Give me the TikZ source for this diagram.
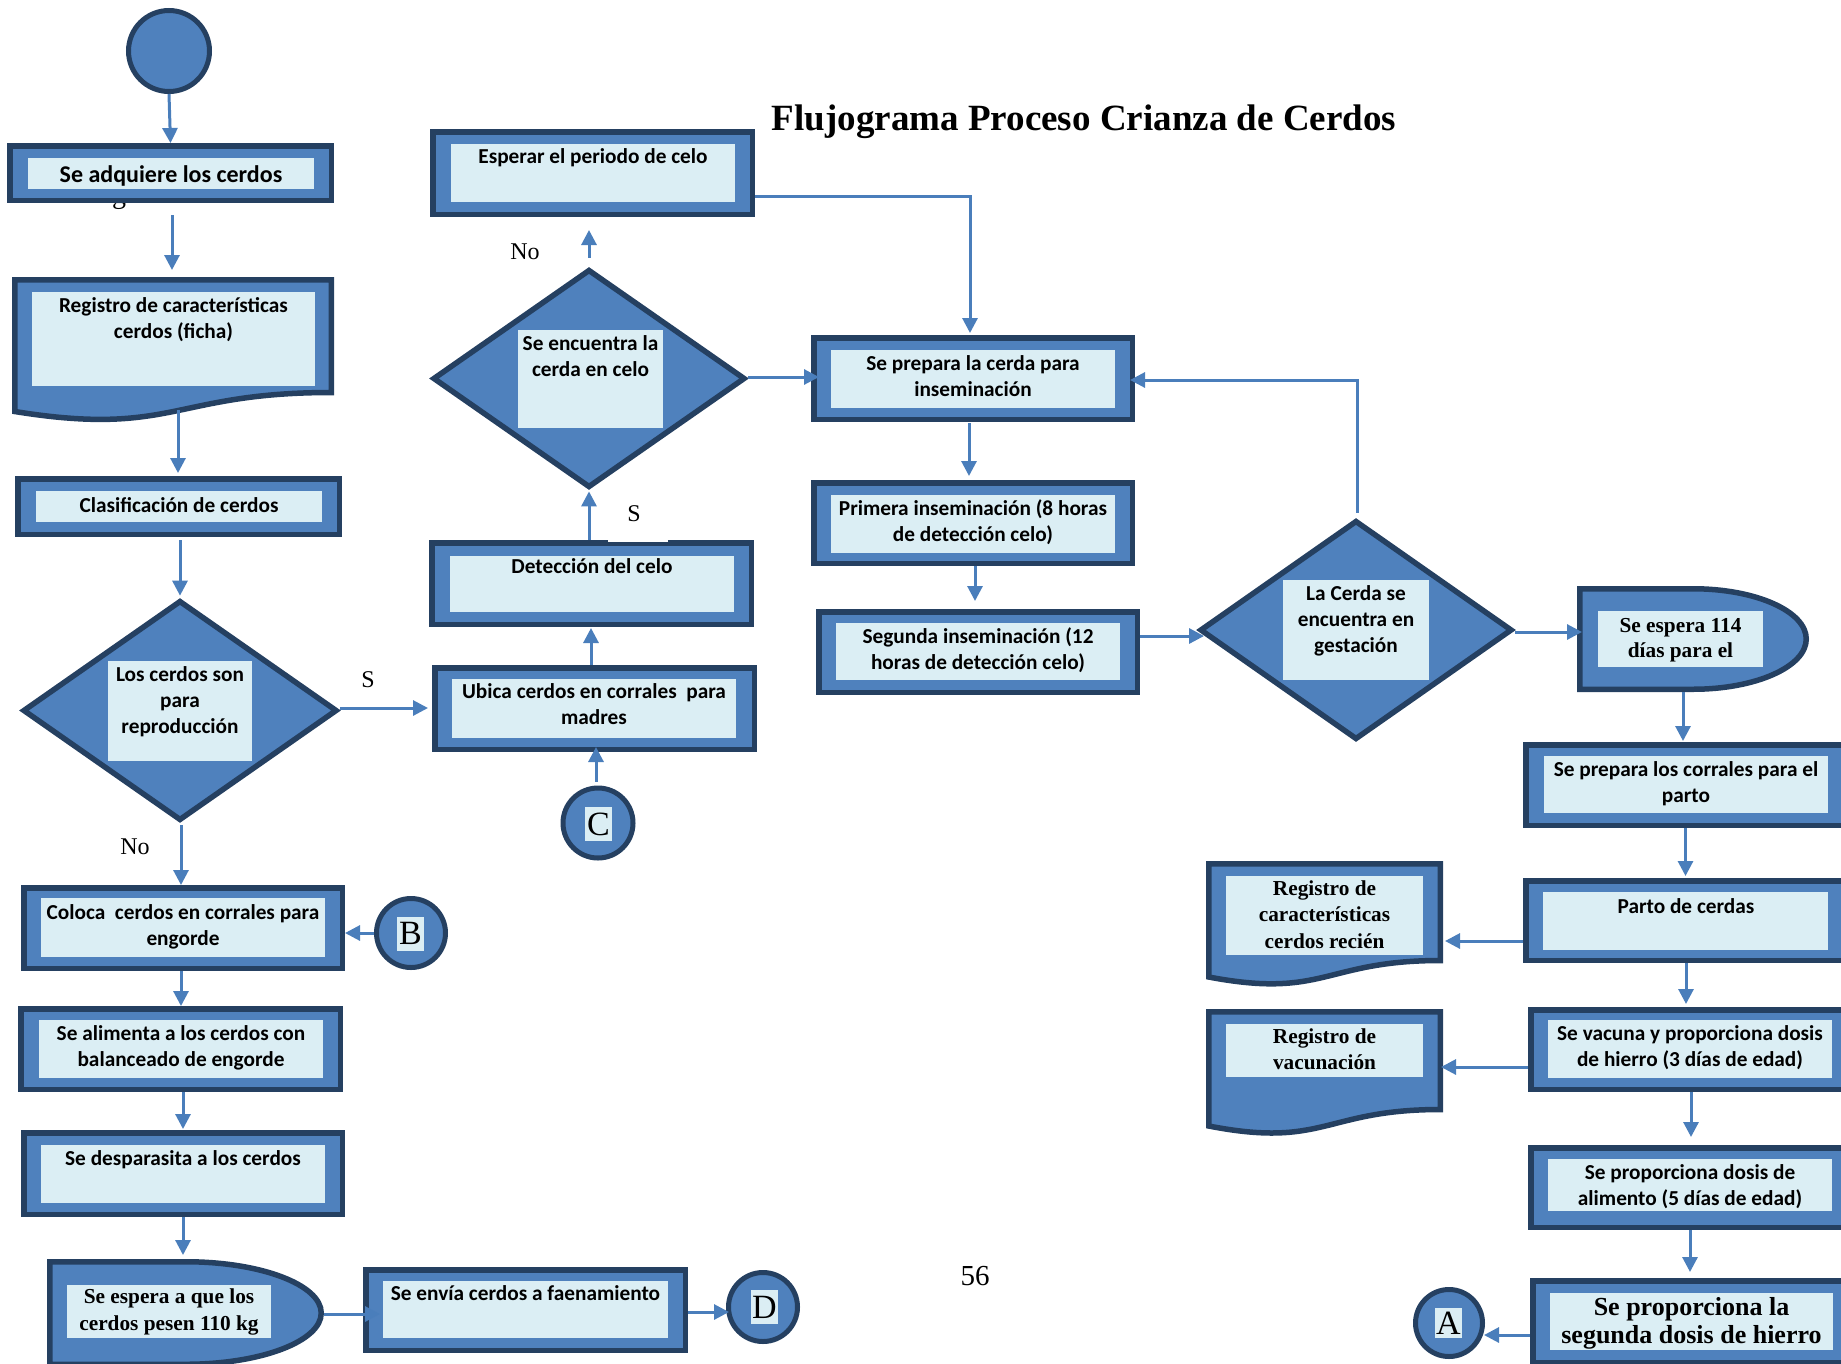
\documentclass[tikz,border=0pt]{standalone}
\usepackage{fontspec}
\setmainfont{Liberation Serif}
\newfontfamily\carl{Carlito}
\usetikzlibrary{arrows.meta,shapes.geometric,calc}

\definecolor{dkb}{HTML}{254061}
\definecolor{mdb}{HTML}{4F81BD}
\definecolor{ltb}{HTML}{DBEEF4}
\definecolor{arw}{HTML}{4A7EBB}

% Text nodes are placed by the baseline of their last line.
\tikzset{
  proc/.style={shape=rectangle, draw=dkb, fill=mdb, line width=5.5pt, inner sep=0pt, outer sep=2.75pt},
  dec/.style={shape=diamond, draw=dkb, fill=mdb, line width=5.5pt, inner sep=0pt, outer sep=2.75pt},
  term/.style={shape=circle, draw=dkb, fill=mdb, line width=5pt, inner sep=0pt, outer sep=2.5pt},
  anc/.style={shape=rectangle, inner sep=0pt, outer sep=0pt},
  shp/.style={draw=dkb, fill=mdb, line width=5.5pt},
  lt/.style={fill=ltb},
  sans/.style={font=\carl\bfseries\fontsize{21.3}{26}\selectfont, align=center, inner sep=0pt, anchor=base},
  sansL/.style={font=\carl\bfseries\fontsize{24}{29}\selectfont, align=center, inner sep=0pt, anchor=base},
  serif/.style={font=\bfseries\fontsize{21.3}{26.5}\selectfont, align=center, inner sep=0pt, anchor=base},
  lbl/.style={font=\fontsize{24}{28}\selectfont, inner sep=0pt},
  letter/.style={fill=ltb, font=\fontsize{34}{40}\selectfont, inner sep=0pt, minimum width=27pt, minimum height=34pt},
  arr/.style={draw=arw, line width=3pt, -{Triangle[length=15pt,width=15pt]}},
}

\begin{document}
\begin{tikzpicture}[x=1pt,y=-1pt]
\useasboundingbox (0,0) rectangle (1841,1363);
\clip (0,0) rectangle (1841,1363);

% ---------- title and page number ----------
\node[font=\bfseries\fontsize{37}{44}\selectfont, anchor=base, inner sep=0pt] (title) at (1084,130) {Flujograma Proceso Crianza de Cerdos};
\node[font=\fontsize{29}{34}\selectfont, anchor=base, inner sep=0pt] (pg) at (975,1285) {56};

% ---------- left column ----------
\node[term, minimum size=81pt] (start) at (169,51) {};

\node[font=\fontsize{28}{32}\selectfont, anchor=base, inner sep=0pt] (gfrag) at (119,203) {g};
\node[proc, minimum width=321.5pt, minimum height=54.5pt] (adq) at (170.5,173) {};
\fill[lt] (28,158) rectangle (314,189);
\node[sansL] (adqT) at (171,182) {Se adquiere los cerdos};

\node[anc, minimum width=322pt, minimum height=118pt] (reg) at (173,336) {};
\draw[shp] (14.75,279.75) -- (331.25,279.75) -- (331.25,392.5) .. controls (173,392.5) and (173,437) .. (14.75,411.5) -- cycle;
\fill[lt] (32,292) rectangle (315,386);
\node[sans] (regT) at (173.5,338) {Registro de características\\cerdos (ficha)};

\node[proc, minimum width=321.5pt, minimum height=55.5pt] (clas) at (178.5,506.5) {};
\fill[lt] (36,491) rectangle (322,522);
\node[sans] (clasT) at (179,512) {Clasificación de cerdos};

\node[dec, minimum width=314.4pt, minimum height=220.2pt] (d1) at (180,710.5) {};
\fill[lt] (108,661) rectangle (252,761);
\node[sans] (d1T) at (180,733) {Los cerdos son\\para\\reproducción};
\node[lbl] (s1) at (368,680) {S};
\node[lbl] (no1) at (135,847) {No};

\node[proc, minimum width=318.5pt, minimum height=80.5pt] (col) at (183,928) {};
\fill[lt] (41,898) rectangle (325,957);
\node[sans] (colT) at (183,945) {Coloca~ cerdos en corrales para\\engorde};

\node[term, minimum size=69pt] (B) at (411,933) {};
\node[letter] (BT) at (410.5,933.5) {B};

\node[proc, minimum width=319.5pt, minimum height=80.5pt] (ali) at (180.5,1049) {};
\fill[lt] (39,1020) rectangle (323,1078);
\node[sans] (aliT) at (181,1066) {Se alimenta a los cerdos con\\balanceado de engorde};

\node[proc, minimum width=318.5pt, minimum height=81.5pt] (des) at (183,1173.5) {};
\fill[lt] (41,1145) rectangle (325,1203);
\node[sans] (desT) at (183,1165) {Se desparasita a los cerdos};

\node[anc, minimum width=277pt, minimum height=108pt] (esp110) at (185.5,1313) {};
\draw[shp] (49.75,1261.75) -- (186,1261.75) .. controls (260.7,1261.75) and (321.25,1284.7) .. (321.25,1313)
  .. controls (321.25,1341.3) and (260.7,1364.25) .. (186,1364.25) -- (49.75,1364.25) -- cycle;
\fill[lt] (67,1285) rectangle (271,1338);
\node[serif, font=\bfseries\fontsize{21.3}{27}\selectfont] (esp110T) at (169,1330) {Se espera a que los\\cerdos pesen 110 kg};

\node[proc, minimum width=319.5pt, minimum height=80.5pt] (env) at (525.5,1310) {};
\fill[lt] (383,1281) rectangle (668,1338);
\node[sans] (envT) at (525.5,1300) {Se envía cerdos a faenamiento};

\node[term, minimum size=69pt] (D) at (763,1307) {};
\node[letter] (DT) at (764.5,1307) {D};

% ---------- middle column ----------
\node[proc, minimum width=319.5pt, minimum height=82.5pt] (esper) at (592.5,173) {};
\fill[lt] (451,144) rectangle (735,202);
\node[sans] (esperT) at (593,163) {Esperar el periodo de celo};

\node[dec, minimum width=312.4pt, minimum height=218.3pt] (d2) at (589,378.5) {};
\fill[lt] (518,330) rectangle (663,428);
\node[sans] (d2T) at (590.5,376) {Se encuentra la\\cerda en celo};
\node[lbl] (no2) at (525,252) {No};

\node[proc, minimum width=319.5pt, minimum height=81.5pt] (det) at (591.5,583.5) {};
\fill[lt] (450,556) rectangle (734,612);
\node[sans] (detT) at (592,573) {Detección del celo};
\fill[white] (608,495) rectangle (668,542);
\node[lbl] (s2) at (634,514) {S};

\node[proc, minimum width=319.5pt, minimum height=81.5pt] (ubi) at (594.5,708.5) {};
\fill[lt] (452,679) rectangle (736,738);
\node[sans] (ubiT) at (594,724) {Ubica cerdos en corrales~ para\\madres};

\node[term, minimum size=70pt] (C) at (598,823) {};
\node[letter] (CT) at (598.5,824) {C};

% ---------- insemination column ----------
\node[proc, minimum width=318.5pt, minimum height=81.5pt] (prep) at (973,378.5) {};
\fill[lt] (831,350) rectangle (1115,408);
\node[sans] (prepT) at (973,396) {Se prepara la cerda para\\inseminación};

\node[proc, minimum width=318.5pt, minimum height=80.5pt] (prim) at (973,523) {};
\fill[lt] (831,495) rectangle (1115,553);
\node[sans] (primT) at (973,541) {Primera inseminación (8 horas\\de detección celo)};

\node[proc, minimum width=318.5pt, minimum height=80.5pt] (seg) at (978,652) {};
\fill[lt] (836,623) rectangle (1120,680);
\node[sans] (segT) at (978,669) {Segunda inseminación (12\\horas de detección celo)};

\node[dec, minimum width=312.4pt, minimum height=219.3pt] (d3) at (1356,630) {};
\fill[lt] (1283,580) rectangle (1429,680);
\node[sans] (d3T) at (1356,652) {La Cerda se\\encuentra en\\gestación};

% ---------- right column ----------
\node[anc, minimum width=232pt, minimum height=106pt] (esp114) at (1693,639) {};
\draw[shp] (1579.75,588.75) -- (1693,588.75) .. controls (1755.6,588.75) and (1806.25,611.25) .. (1806.25,639)
  .. controls (1806.25,666.75) and (1755.6,689.25) .. (1693,689.25) -- (1579.75,689.25) -- cycle;
\fill[lt] (1598,611) rectangle (1763,667);
\node[serif, font=\bfseries\fontsize{21.3}{25}\selectfont] (esp114T) at (1680.5,657) {Se espera 114\\días para el};

\node[proc, minimum width=319.5pt, minimum height=80.5pt] (corr) at (1685.5,785) {};
\fill[lt] (1544,756) rectangle (1828,813);
\node[sans] (corrT) at (1686,802) {Se prepara los corrales para el\\parto};

\node[proc, minimum width=319.5pt, minimum height=79.5pt] (parto) at (1685.5,920.5) {};
\fill[lt] (1543,892) rectangle (1828,950);
\node[sans] (partoT) at (1686,913) {Parto de cerdas};

\node[anc, minimum width=237pt, minimum height=102pt] (regR) at (1324.5,912) {};
\draw[shp] (1208.75,863.75) -- (1440.25,863.75) -- (1440.25,960.5) .. controls (1324.5,960.5) and (1324.5,999) .. (1208.75,977) -- cycle;
\fill[lt] (1226,876) rectangle (1423,955);
\node[serif] (regRT) at (1324.5,948) {Registro de\\características\\cerdos recién};

\node[proc, minimum width=319.5pt, minimum height=79.5pt] (vac) at (1690.5,1049.5) {};
\fill[lt] (1548,1020) rectangle (1832,1078);
\node[sans] (vacT) at (1690,1066) {Se vacuna y proporciona dosis\\de hierro (3 días de edad)};

\node[anc, minimum width=237pt, minimum height=103pt] (regV) at (1324.5,1060.5) {};
\draw[shp] (1208.75,1011.75) -- (1440.25,1011.75) -- (1440.25,1109.5) .. controls (1324.5,1109.5) and (1324.5,1148.5) .. (1208.75,1126) -- cycle;
\fill[lt] (1226,1024) rectangle (1423,1077);
\node[serif] (regVT) at (1324.5,1069.5) {Registro de\\vacunación};

\node[proc, minimum width=319.5pt, minimum height=79.5pt] (alim) at (1690.5,1187.5) {};
\fill[lt] (1548,1159) rectangle (1832,1211);
\node[sans] (alimT) at (1690,1205) {Se proporciona dosis de\\alimento (5 días de edad)};

\node[proc, minimum width=319.5pt, minimum height=81.5pt] (seg2) at (1692.5,1321.5) {};
\fill[lt] (1550,1293) rectangle (1833,1350);
\node[serif, font=\bfseries\fontsize{26}{28}\selectfont] (seg2T) at (1691.5,1343) {Se proporciona la\\segunda dosis de hierro};

\node[term, minimum size=67pt] (A) at (1449,1323) {};
\node[letter, minimum height=30pt] (AT) at (1448.5,1323) {A};

% ---------- connectors ----------
\draw[arr] (start.south) -- (adq.north);
\draw[arr] ($(adq.south)+(1.5,12)$) -- ($(reg.north)+(-1,-7)$);
\draw[arr] ($(reg.south)+(5,15)$) -- ($(clas.north)+(-0.5,-3)$);
\draw[arr] ($(clas.south)+(1.5,3)$) -- ($(d1.north)+(0,-2)$);
\draw[arr] ($(d1.south)+(1,2)$) -- ($(col.north)+(-2,0)$);
\draw[arr] ($(d1.east)+(0,-2.5)$) -- ($(ubi.west)+(-4,-0.5)$);
\draw[arr] (B.west) -- ($(col.east)+(0,5)$);
\draw[arr] ($(col.south)+(-2,0)$) -- ($(ali.north)+(0.5,0)$);
\draw[arr] ($(ali.south)+(2.5,0)$) -- ($(des.north)+(0,-1)$);
\draw[arr] ($(des.south)+(0,0)$) -- ($(esp110.north)+(-2.5,-4)$);
\draw[arr] ($(esp110.east)+(0,1)$) -- ($(env.west)+(17,4)$);
\draw[arr] ($(env.east)+(0,2)$) -- ($(D.west)+(3,5)$);
\draw[arr] ($(C.north)+(-2,-4)$) -- ($(ubi.south)+(1.5,-5)$);
\draw[arr] ($(ubi.north)+(-3.5,0)$) -- ($(det.south)+(-0.5,1)$);
\draw[arr] ($(det.north)+(-2.5,0)$) -- ($(d2.south)+(0,1)$);
\draw[arr] ($(d2.north)+(0,-9)$) -- ($(esper.south)+(-3.5,13)$);
\draw[arr] ($(esper.east)+(0,23)$) -| ($(prep.north)+(-3,-2)$);
\draw[arr] ($(d2.east)+(0,-1.5)$) -- ($(prep.west)+(8,-1.5)$);
\draw[arr] ($(d3.north)+(1,-5)$) |- ($(prep.east)+(-5,1.5)$);
\draw[arr] ($(prep.south)+(-4,1)$) -- ($(prim.north)+(-4,-4)$);
\draw[arr] ($(prim.south)+(2,0)$) -- ($(seg.north)+(-3,-8)$);
\draw[arr] ($(seg.east)+(0,-16)$) -- ($(d3.west)+(7,6)$);
\draw[arr] ($(d3.east)+(0,2)$) -- ($(esp114.west)+(5,-7)$);
\draw[arr] ($(esp114.south)+(-10,0)$) -- ($(corr.north)+(-2.5,-1)$);
\draw[arr] (corr.south) -- ($(parto.north)+(0,-2)$);
\draw[arr] ($(parto.west)+(0,20.5)$) -- ($(regR.east)+(2,29)$);
\draw[arr] ($(parto.south)+(0.5,0)$) -- ($(vac.north)+(-4.5,-3)$);
\draw[arr] ($(vac.west)+(0,17.5)$) -- ($(regV.east)+(-2,6.5)$);
\draw[arr] ($(vac.south)+(0.5,0)$) -- ($(alim.north)+(0.5,-8)$);
\draw[arr] ($(alim.south)+(-0.5,0)$) -- ($(seg2.north)+(-2.5,-6)$);
\draw[arr] ($(seg2.west)+(0,13.5)$) -- ($(A.east)+(-1,12)$);
\end{tikzpicture}
\end{document}
